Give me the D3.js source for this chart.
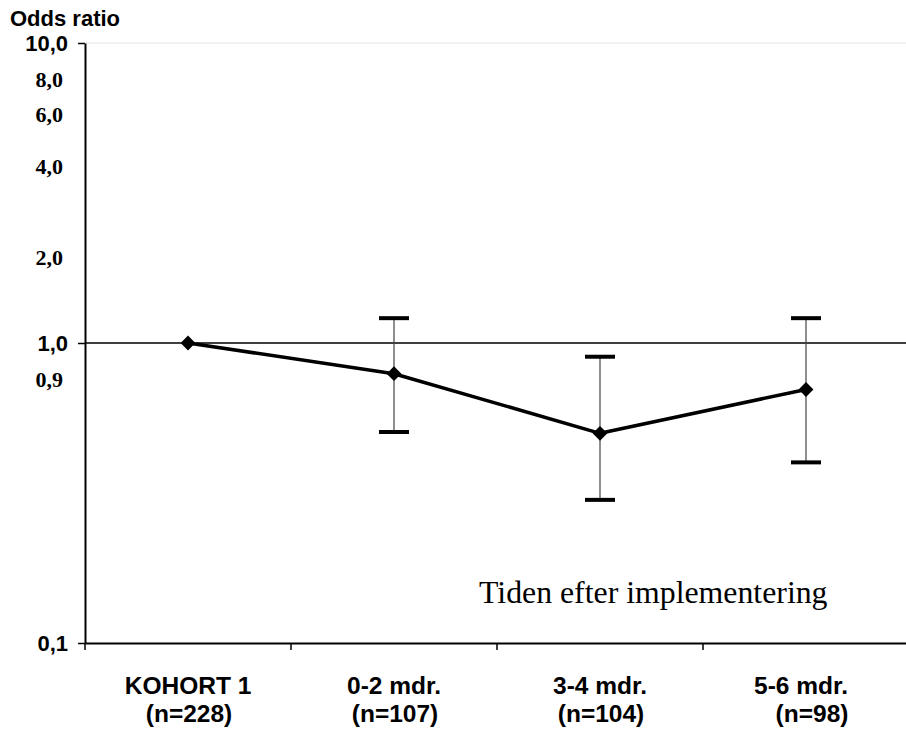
<!DOCTYPE html>
<html>
<head>
<meta charset="utf-8">
<script src="https://cdn.jsdelivr.net/npm/d3@7"></script>
<style>
  body { margin: 0; background: #fff; }
  text { fill: #000; }
</style>
</head>
<body>
<div id="chart"></div>
<script>
//Width and height
const w = 906;
const h = 730;

//Data
const categories = ['KOHORT 1', '0-2 mdr.', '3-4 mdr.', '5-6 mdr.'];
const groupSizes = ['(n=228)', '(n=107)', '(n=104)', '(n=98)'];
const oddsRatio = [1.0, 0.79, 0.50, 0.70];
const ciLower = [null, 0.505, 0.30, 0.40];
const ciUpper = [null, 1.21, 0.90, 1.21];

//Y tick labels: the bold sans ones sit on tick marks, the serif ones are plain text
const majorTicks = [10, 1, 0.1];
const majorLabels = ['10,0', '1,0', '0,1'];
const minorTicks = [8, 6, 4, 2, 0.9];
const minorLabels = ['8,0', '6,0', '4,0', '2,0', '0,9'];

const plotLeft = 85;
const plotTop = 43;
const plotBottom = 643;

const xScale = d3.scaleBand()
        .domain(d3.range(categories.length))
        .range([plotLeft, plotLeft + 4 * 206]);

const yScale = d3.scaleLog()
        .domain([0.1, 10])
        .range([plotBottom, plotTop]);

//Create SVG element
const svg = d3.select('#chart')
      .append('svg')
      .attr('width', w)
      .attr('height', h);

//Light line at the top of the plot
svg.append('line')
   .attr('x1', plotLeft)
   .attr('x2', w)
   .attr('y1', yScale(10))
   .attr('y2', yScale(10))
   .attr('stroke', '#e3e3e3')
   .attr('stroke-width', 1);

//Reference line at OR = 1
svg.append('line')
   .attr('x1', plotLeft)
   .attr('x2', w)
   .attr('y1', yScale(1))
   .attr('y2', yScale(1))
   .attr('stroke', '#000')
   .attr('stroke-width', 1.6);

//Y axis
const yAxis = d3.axisLeft(yScale)
        .tickValues(majorTicks)
        .tickFormat('')
        .tickSize(7)
        .tickSizeOuter(0);

const gy = svg.append('g')
   .attr('transform', `translate(${plotLeft},0)`)
   .call(yAxis);
gy.select('.domain').attr('stroke-width', 2);
gy.selectAll('.tick line').attr('stroke-width', 1.5);

svg.selectAll('text.major')
   .data(majorTicks)
   .enter()
   .append('text')
   .attr('class', 'major')
   .text((d, i) => majorLabels[i])
   .attr('text-anchor', 'end')
   .attr('x', 68)
   .attr('y', d => yScale(d) + 8)
   .style('font-family', '"Liberation Sans", Arial, sans-serif')
   .style('font-weight', 'bold')
   .style('font-size', '22px');

//serif labels sit a bit under their value, and keep clear of the major labels
const minorY = d => {
  let y = yScale(d) + 12;
  majorTicks.forEach(m => {
    const my = yScale(m) + 8;
    if (y > my && y - my < 36) y = my + 36;
  });
  return y;
};

svg.selectAll('text.minor')
   .data(minorTicks)
   .enter()
   .append('text')
   .attr('class', 'minor')
   .text((d, i) => minorLabels[i])
   .attr('text-anchor', 'end')
   .attr('x', 63)
   .attr('y', minorY)
   .style('font-family', '"Liberation Serif", "Times New Roman", serif')
   .style('font-weight', 'bold')
   .style('font-size', '22px');

//Axis title
svg.append('text')
   .text('Odds ratio')
   .attr('x', 10)
   .attr('y', 26)
   .style('font-family', '"Liberation Sans", Arial, sans-serif')
   .style('font-weight', 'bold')
   .style('font-size', '22px');

//X axis
const xAxis = d3.axisBottom(xScale)
        .tickFormat('')
        .tickSize(0)
        .tickSizeOuter(0);

const gx = svg.append('g')
   .attr('transform', `translate(0,${plotBottom})`)
   .call(xAxis);
gx.select('.domain').attr('stroke-width', 2);

//Tick marks between the categories
gx.selectAll('line.sep')
   .data(d3.range(categories.length))
   .enter()
   .append('line')
   .attr('class', 'sep')
   .attr('x1', d => xScale(d))
   .attr('x2', d => xScale(d))
   .attr('y1', 0)
   .attr('y2', 7)
   .attr('stroke', '#000')
   .attr('stroke-width', 1.5);

//Category labels
const labels = svg.selectAll('text.cat')
   .data(categories)
   .enter()
   .append('text')
   .attr('class', 'cat')
   .attr('text-anchor', 'middle')
   .style('font-family', '"Liberation Sans", Arial, sans-serif')
   .style('font-weight', 'bold')
   .style('font-size', '24.5px');

labels.append('tspan')
   .text(d => d)
   .attr('x', (d, i) => xScale(i) + xScale.bandwidth() / 2 - (i === 3 ? 5 : 0))
   .attr('y', 694);

labels.append('tspan')
   .text((d, i) => groupSizes[i])
   .attr('x', (d, i) => xScale(i) + xScale.bandwidth() / 2 + (i === 3 ? 6 : 1))
   .attr('y', 722);

//Annotation
svg.append('text')
   .text('Tiden efter implementering')
   .attr('x', 479)
   .attr('y', 603)
   .style('font-family', '"Liberation Serif", "Times New Roman", serif')
   .style('font-size', '31.8px');

const cx = i => xScale(i) + xScale.bandwidth() / 2;
const ciIdx = d3.range(categories.length).filter(i => ciLower[i] !== null);

//Error bars
svg.selectAll('line.ci')
   .data(ciIdx)
   .enter()
   .append('line')
   .attr('class', 'ci')
   .attr('x1', cx)
   .attr('x2', cx)
   .attr('y1', i => yScale(ciUpper[i]))
   .attr('y2', i => yScale(ciLower[i]))
   .attr('stroke', '#444')
   .attr('stroke-width', 1.2);

[ciUpper, ciLower].forEach(arr => {
  svg.selectAll(null)
     .data(ciIdx)
     .enter()
     .append('line')
     .attr('x1', i => cx(i) - 15)
     .attr('x2', i => cx(i) + 15)
     .attr('y1', i => yScale(arr[i]))
     .attr('y2', i => yScale(arr[i]))
     .attr('stroke', '#000')
     .attr('stroke-width', 4);
});

//Line through the odds ratios
const line = d3.line()
        .x((d, i) => cx(i))
        .y(d => yScale(d));

svg.append('path')
   .datum(oddsRatio)
   .attr('d', line)
   .attr('fill', 'none')
   .attr('stroke', '#000')
   .attr('stroke-width', 3.5)
   .attr('stroke-linejoin', 'round');

//Diamond markers
svg.selectAll('path.pt')
   .data(oddsRatio)
   .enter()
   .append('path')
   .attr('class', 'pt')
   .attr('d', d3.symbol().type(d3.symbolDiamond2).size(140))
   .attr('transform', (d, i) => `translate(${cx(i)},${yScale(d)})`)
   .attr('fill', '#000');
</script>
</body>
</html>
